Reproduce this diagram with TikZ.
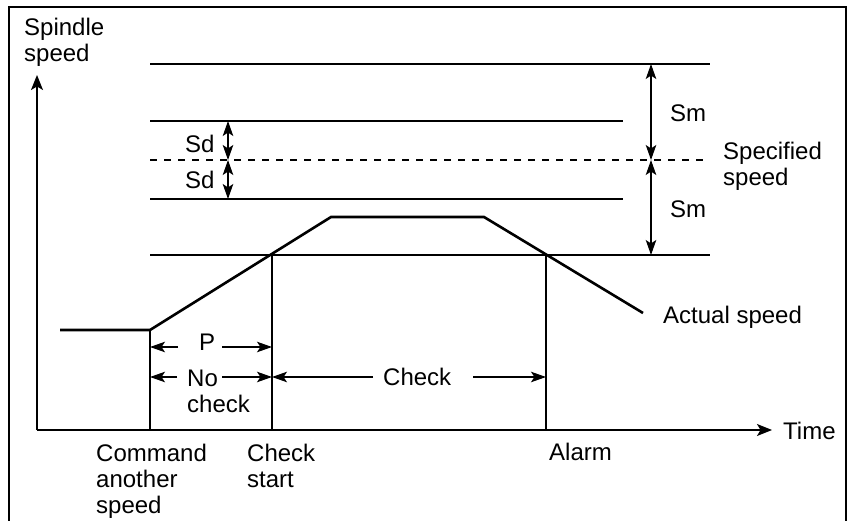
\documentclass[tikz,border=0pt]{standalone}
\usepackage{fontspec}
\setmainfont{Liberation Sans}
\usetikzlibrary{arrows.meta}
\begin{document}
\begin{tikzpicture}[x=1pt,y=-1pt,
  lbl/.style={inner sep=0pt,anchor=base west,font=\fontsize{24}{26}\selectfont,align=left},
  thin line/.style={line width=1.1pt},
  axis/.style={line width=1.4pt,-{Stealth[length=15pt,width=12pt,inset=3.5pt]}},
  dim/.style={line width=1.1pt,-{Stealth[length=15pt,width=10.5pt,inset=3.5pt]}},
  dimboth/.style={line width=1.1pt,{Stealth[length=15pt,width=10.5pt,inset=3.5pt]}-{Stealth[length=15pt,width=10.5pt,inset=3.5pt]}},
  speedline/.style={line width=2.6pt,line join=miter},
  frame/.style={line width=2pt}]
\useasboundingbox (0,0) rectangle (850,521);
% frame
\coordinate (fbl) at (9,530);
\coordinate (ftl) at (9,7);
\coordinate (ftr) at (846,7);
\coordinate (fbr) at (846,530);
\draw[frame] (fbl) -- (ftl) -- (ftr) -- (fbr);
% axes
\coordinate (o) at (37,430);
\coordinate (ytip) at (37,75);
\coordinate (xtip) at (772,430);
\draw[axis] (o) -- (ytip);
\draw[axis] (o) -- (xtip);
% horizontal levels
\coordinate (l1a) at (150,64);  \coordinate (l1b) at (710,64);
\coordinate (l2a) at (150,121); \coordinate (l2b) at (623,121);
\coordinate (l3a) at (150,160); \coordinate (l3b) at (710,160);
\coordinate (l4a) at (150,199); \coordinate (l4b) at (623,199);
\coordinate (l5a) at (150,255); \coordinate (l5b) at (710,255);
\draw[thin line] (l1a) -- (l1b);
\draw[thin line] (l2a) -- (l2b);
\draw[thin line,dash pattern=on 7pt off 7pt] (l3a) -- (l3b);
\draw[thin line] (l4a) -- (l4b);
\draw[thin line] (l5a) -- (l5b);
% Sd arrows
\coordinate (sd1) at (228,121); \coordinate (sd2) at (228,160); \coordinate (sd3) at (228,199);
\draw[dimboth] (sd1) -- (sd2);
\draw[dimboth] (sd2) -- (sd3);
% Sm arrows
\coordinate (sm1) at (651,64); \coordinate (sm2) at (651,160); \coordinate (sm3) at (651,255);
\draw[dimboth] (sm1) -- (sm2);
\draw[dimboth] (sm2) -- (sm3);
% actual speed
\coordinate (a0) at (60,330);
\coordinate (a1) at (150,330);
\coordinate (a2) at (331,217);
\coordinate (a3) at (484,217);
\coordinate (a4) at (643,313);
\draw[speedline] (a0) -- (a1) -- (a2) -- (a3) -- (a4);
% verticals
\coordinate (v1t) at (150,330); \coordinate (v1b) at (150,430);
\coordinate (v2t) at (272,255); \coordinate (v2b) at (272,430);
\coordinate (v3t) at (546,255); \coordinate (v3b) at (546,430);
\draw[thin line] (v1t) -- (v1b);
\draw[thin line] (v2t) -- (v2b);
\draw[thin line] (v3t) -- (v3b);
% P arrows
\coordinate (p1) at (178,347); \coordinate (p1t) at (150,347);
\coordinate (p2) at (222,347); \coordinate (p2t) at (272,347);
\draw[dim] (p1) -- (p1t);
\draw[dim] (p2) -- (p2t);
% No check arrows
\coordinate (n1) at (177,377); \coordinate (n1t) at (150,377);
\coordinate (n2) at (222,377); \coordinate (n2t) at (272,377);
\draw[dim] (n1) -- (n1t);
\draw[dim] (n2) -- (n2t);
% Check arrows
\coordinate (c1) at (373,377); \coordinate (c1t) at (272,377);
\coordinate (c2) at (473,377); \coordinate (c2t) at (546,377);
\draw[dim] (c1) -- (c1t);
\draw[dim] (c2) -- (c2t);
% labels (base anchor = baseline of the last line)
\node[lbl] (spindle) at (24,62) {Spindle\\speed};
\node[lbl] (sdA) at (185,153) {Sd};
\node[lbl] (sdB) at (185,189) {Sd};
\node[lbl] (smA) at (670,122) {Sm};
\node[lbl] (smB) at (670,218) {Sm};
\node[lbl] (spec) at (723,186) {Specified\\speed};
\node[lbl] (actual) at (663,323) {Actual speed};
\node[lbl] (plbl) at (199,350) {P};
\node[lbl] (nolbl) at (187,412) {No\\check};
\node[lbl] (chk) at (383,385) {Check};
\node[lbl] (time) at (783,439) {Time};
\node[lbl] (cmd) at (96,513) {Command\\another\\speed};
\node[lbl] (cstart) at (247,487) {Check\\start};
\node[lbl] (alarm) at (549,460) {Alarm};
\end{tikzpicture}
\end{document}
